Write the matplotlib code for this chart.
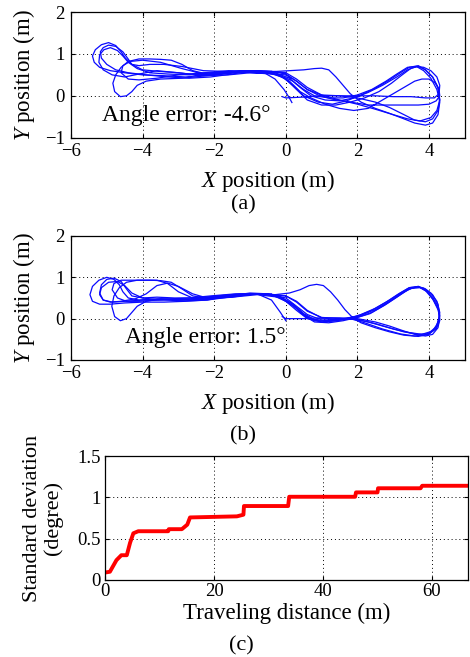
import matplotlib
matplotlib.use("Agg")
import matplotlib.pyplot as plt

plt.rcParams['font.family'] = ['Liberation Serif', 'DejaVu Serif']
plt.rcParams['mathtext.fontset'] = 'custom'
plt.rcParams['mathtext.rm'] = 'Liberation Serif'
plt.rcParams['mathtext.it'] = 'Liberation Serif:italic'

# Trajectory laps, panel (a): heading not corrected
a_lap1_x = [-0.1, 0.0, 0.5, 1.0, 1.5, 2.0, 2.5, 2.9, 3.3, 3.6, 3.9, 4.1, 4.25, 4.3, 4.25, 4.1, 3.9, 3.7, 3.45, 3.2, 2.9, 2.5, 2.1, 1.7, 1.3, 0.9, 0.5, 0.2, -0.1, -0.5, -1.0, -1.6, -2.2, -2.8, -3.4, -4.0, -4.5, -4.9, -5.2, -5.35, -5.4, -5.32, -5.15, -4.95, -4.75, -4.6, -4.48, -4.3, -4.0, -3.5, -3.0, -2.5, -2.0, -1.4, -0.8, -0.3]
a_lap1_y = [-0.02, -0.05, -0.03, 0.0, 0.0, -0.05, -0.15, -0.28, -0.45, -0.58, -0.62, -0.55, -0.35, -0.1, 0.2, 0.45, 0.62, 0.72, 0.68, 0.55, 0.38, 0.18, 0.02, -0.12, -0.2, -0.15, 0.0, 0.25, 0.45, 0.55, 0.6, 0.58, 0.5, 0.45, 0.48, 0.5, 0.55, 0.6, 0.68, 0.8, 0.95, 1.1, 1.22, 1.27, 1.2, 1.05, 0.9, 0.75, 0.62, 0.58, 0.55, 0.5, 0.52, 0.58, 0.6, 0.58]
a_lap2_x = [-0.3, 0.1, 0.5, 0.8, 1.0, 1.2, 1.4, 1.6, 1.8, 2.1, 2.5, 2.9, 3.3, 3.6, 3.9, 4.1, 4.25, 4.3, 4.22, 4.05, 3.85, 3.65, 3.4, 3.1, 2.8, 2.4, 2.0, 1.6, 1.2, 0.8, 0.5, 0.2, -0.2, -0.8, -1.5, -2.2, -2.9, -3.5, -3.9, -4.15, -4.3, -4.45, -4.62, -4.78, -4.83, -4.75, -4.6, -4.4, -4.1, -3.8, -3.5, -3.2, -2.9, -2.6, -2.1, -1.5, -0.9, -0.4]
a_lap2_y = [0.58, 0.6, 0.62, 0.65, 0.66, 0.62, 0.45, 0.25, 0.05, -0.15, -0.3, -0.42, -0.55, -0.65, -0.7, -0.65, -0.45, -0.15, 0.15, 0.42, 0.6, 0.7, 0.68, 0.52, 0.35, 0.15, 0.02, -0.05, -0.05, 0.0, 0.15, 0.35, 0.5, 0.58, 0.55, 0.48, 0.42, 0.4, 0.35, 0.25, 0.1, 0.0, -0.02, 0.1, 0.3, 0.5, 0.68, 0.82, 0.88, 0.88, 0.87, 0.85, 0.75, 0.6, 0.5, 0.55, 0.6, 0.58]
a_lap3_x = [-0.4, 0.0, 0.3, 0.6, 0.9, 1.3, 1.8, 2.3, 2.8, 3.3, 3.7, 4.0, 4.2, 4.3, 4.28, 4.18, 4.0, 3.8, 3.6, 3.4, 3.1, 2.7, 2.3, 1.9, 1.5, 1.1, 0.7, 0.4, 0.1, -0.3, -0.9, -1.5, -2.1, -2.7, -3.3, -3.9, -4.4, -4.75, -5.0, -5.15, -5.18, -5.1, -4.95, -4.75, -4.55, -4.42, -4.3, -4.1, -3.8, -3.4, -2.9, -2.3, -1.6, -0.9, -0.4, 0.0]
a_lap3_y = [0.58, 0.52, 0.35, 0.15, 0.02, -0.08, -0.15, -0.22, -0.22, -0.22, -0.22, -0.2, -0.12, 0.0, 0.15, 0.3, 0.4, 0.4, 0.35, 0.25, 0.1, -0.1, -0.3, -0.35, -0.3, -0.2, -0.05, 0.1, 0.35, 0.55, 0.6, 0.52, 0.45, 0.42, 0.45, 0.5, 0.55, 0.62, 0.75, 0.9, 1.05, 1.15, 1.21, 1.18, 1.05, 0.9, 0.75, 0.72, 0.75, 0.75, 0.7, 0.6, 0.58, 0.6, 0.58, 0.55]
a_lap4_x = [0.0, 0.3, 0.6, 1.0, 1.5, 2.0, 2.5, 3.0, 3.4, 3.75, 4.05, 4.22, 4.3, 4.25, 4.1, 3.9, 3.7, 3.5, 3.25, 2.95, 2.6, 2.2, 1.8, 1.4, 1.0, 0.6, 0.3, 0.0, -0.4, -1.0, -1.6, -2.3, -3.0, -3.6, -4.1, -4.5, -4.85, -5.1, -5.22, -5.2, -5.08, -4.9, -4.7, -4.55, -4.4, -4.15, -3.8, -3.3, -2.7, -2.1, -1.5, -0.9, -0.4, 0.0]
a_lap4_y = [0.55, 0.4, 0.2, 0.02, -0.1, -0.2, -0.32, -0.45, -0.55, -0.6, -0.52, -0.35, -0.1, 0.2, 0.45, 0.62, 0.7, 0.66, 0.5, 0.3, 0.1, -0.05, -0.15, -0.22, -0.22, -0.1, 0.15, 0.4, 0.55, 0.55, 0.5, 0.48, 0.55, 0.6, 0.52, 0.45, 0.5, 0.62, 0.8, 0.98, 1.1, 1.15, 1.08, 0.95, 0.8, 0.65, 0.55, 0.52, 0.5, 0.55, 0.58, 0.55, 0.52, 0.5]
a_lap5_x = [0.0, 0.3, 0.6, 1.0, 1.5, 2.0, 2.5, 3.0, 3.5, 3.9, 4.15, 4.28, 4.3, 4.22, 4.05, 3.85, 3.65, 3.4, 3.1, 2.7, 2.3, 1.9, 1.5, 1.1, 0.7, 0.4, 0.1, -0.3, -0.9, -1.6, -2.3, -3.0, -3.6, -4.1, -4.4, -4.6, -4.55, -4.35, -4.0, -3.5, -2.9, -2.3, -1.7, -1.1, -0.6, -0.3, -0.05, 0.1, 0.17]
a_lap5_y = [0.5, 0.35, 0.15, 0.02, 0.0, 0.0, 0.0, -0.02, -0.02, -0.05, -0.05, 0.05, 0.25, 0.45, 0.6, 0.68, 0.7, 0.62, 0.45, 0.25, 0.08, -0.05, -0.12, -0.1, 0.0, 0.2, 0.42, 0.55, 0.58, 0.6, 0.55, 0.5, 0.42, 0.38, 0.4, 0.55, 0.72, 0.82, 0.85, 0.8, 0.65, 0.52, 0.55, 0.6, 0.55, 0.4, 0.15, -0.05, -0.16]

# Trajectory laps, panel (b): heading corrected
b_lap1_x = [-0.1, 0.0, 0.5, 1.0, 1.5, 2.0, 2.5, 2.9, 3.3, 3.6, 3.9, 4.1, 4.25, 4.3, 4.25, 4.1, 3.9, 3.7, 3.45, 3.2, 2.9, 2.5, 2.1, 1.8, 1.4, 1.0, 0.6, 0.3, -0.1, -0.5, -1.0, -1.6, -2.2, -2.8, -3.4, -4.0, -4.5, -4.9, -5.2, -5.4, -5.47, -5.4, -5.22, -5.0, -4.8, -4.65, -4.55, -4.4, -4.1, -3.6, -3.0, -2.5, -2.0, -1.4, -0.8, -0.3]
b_lap1_y = [0.05, 0.0, 0.0, 0.02, 0.02, 0.0, -0.08, -0.18, -0.3, -0.38, -0.42, -0.38, -0.22, 0.0, 0.25, 0.48, 0.68, 0.78, 0.75, 0.62, 0.45, 0.25, 0.1, 0.02, -0.05, -0.08, 0.02, 0.25, 0.48, 0.6, 0.62, 0.55, 0.45, 0.42, 0.4, 0.4, 0.38, 0.35, 0.35, 0.42, 0.58, 0.78, 0.93, 1.0, 0.95, 0.82, 0.65, 0.5, 0.45, 0.48, 0.47, 0.45, 0.5, 0.55, 0.6, 0.58]
b_lap2_x = [-0.3, 0.1, 0.4, 0.65, 0.86, 1.05, 1.25, 1.45, 1.65, 1.85, 2.1, 2.5, 2.9, 3.3, 3.7, 4.0, 4.2, 4.3, 4.25, 4.1, 3.9, 3.7, 3.45, 3.15, 2.8, 2.4, 2.0, 1.6, 1.2, 0.8, 0.5, 0.2, -0.2, -0.8, -1.5, -2.2, -2.9, -3.5, -3.9, -4.15, -4.3, -4.45, -4.62, -4.78, -4.86, -4.8, -4.65, -4.45, -4.15, -3.8, -3.5, -3.2, -2.9, -2.6, -2.1, -1.5, -0.9, -0.4]
b_lap2_y = [0.58, 0.62, 0.7, 0.8, 0.83, 0.8, 0.65, 0.45, 0.22, 0.04, -0.1, -0.22, -0.32, -0.4, -0.43, -0.38, -0.22, 0.05, 0.3, 0.52, 0.7, 0.77, 0.75, 0.6, 0.4, 0.2, 0.06, 0.0, -0.05, -0.05, 0.1, 0.35, 0.55, 0.6, 0.55, 0.47, 0.45, 0.48, 0.42, 0.3, 0.15, 0.0, -0.05, 0.05, 0.3, 0.55, 0.75, 0.88, 0.93, 0.93, 0.92, 0.88, 0.72, 0.55, 0.48, 0.52, 0.6, 0.6]
b_lap3_x = [-0.4, 0.0, 0.3, 0.6, 0.9, 1.3, 1.8, 2.3, 2.8, 3.3, 3.7, 4.0, 4.2, 4.3, 4.26, 4.12, 3.95, 3.75, 3.5, 3.2, 2.9, 2.5, 2.1, 1.8, 1.4, 1.0, 0.6, 0.3, 0.0, -0.4, -1.0, -1.6, -2.2, -2.8, -3.4, -4.0, -4.5, -4.85, -5.1, -5.2, -5.15, -5.0, -4.8, -4.6, -4.45, -4.3, -4.0, -3.6, -3.1, -2.5, -1.9, -1.3, -0.7, -0.3, 0.0]
b_lap3_y = [0.58, 0.5, 0.3, 0.1, 0.0, -0.02, 0.0, -0.08, -0.2, -0.32, -0.38, -0.36, -0.25, -0.05, 0.2, 0.45, 0.65, 0.75, 0.73, 0.6, 0.42, 0.22, 0.08, 0.0, -0.05, -0.08, 0.0, 0.2, 0.42, 0.58, 0.6, 0.52, 0.45, 0.43, 0.45, 0.45, 0.42, 0.4, 0.45, 0.62, 0.82, 0.95, 0.98, 0.9, 0.72, 0.55, 0.5, 0.52, 0.5, 0.5, 0.55, 0.6, 0.6, 0.58, 0.55]
b_lap4_x = [0.0, 0.3, 0.6, 1.0, 1.4, 1.8, 2.2, 2.7, 3.2, 3.6, 3.95, 4.2, 4.3, 4.25, 4.1, 3.9, 3.7, 3.45, 3.15, 2.8, 2.4, 2.0, 1.6, 1.2, 0.8, 0.5, 0.2, -0.2, -0.8, -1.5, -2.2, -2.6, -3.0, -3.3, -3.6, -3.9, -4.2, -4.6, -4.9, -5.1, -5.2, -5.15, -4.95, -4.7, -4.5, -4.3, -4.0, -3.6, -3.2, -2.7, -2.1, -1.4, -0.7, 0.0]
b_lap4_y = [0.55, 0.42, 0.2, 0.02, -0.02, 0.0, -0.1, -0.25, -0.37, -0.42, -0.38, -0.2, 0.08, 0.35, 0.58, 0.72, 0.78, 0.72, 0.55, 0.35, 0.15, 0.03, -0.05, -0.1, -0.08, 0.08, 0.32, 0.52, 0.58, 0.52, 0.5, 0.6, 0.78, 0.86, 0.8, 0.6, 0.48, 0.42, 0.4, 0.45, 0.58, 0.75, 0.88, 0.9, 0.8, 0.62, 0.5, 0.46, 0.48, 0.5, 0.55, 0.6, 0.6, 0.55]
b_lap5_x = [0.0, 0.3, 0.6, 1.0, 1.5, 2.0, 2.5, 3.0, 3.4, 3.8, 4.1, 4.25, 4.3, 4.22, 4.05, 3.85, 3.65, 3.4, 3.1, 2.75, 2.35, 2.0, 1.6, 1.2, 0.8, 0.5, 0.2, -0.2, -0.8, -1.5, -2.2, -2.9, -3.6, -4.1, -4.45, -4.7, -4.85, -4.8, -4.6, -4.2, -3.6, -3.3, -3.0, -2.6, -2.0, -1.4, -0.8, -0.4, -0.15, 0.0]
b_lap5_y = [0.55, 0.4, 0.18, 0.03, 0.0, -0.02, -0.12, -0.25, -0.33, -0.38, -0.3, -0.1, 0.15, 0.42, 0.62, 0.74, 0.77, 0.7, 0.52, 0.32, 0.12, 0.03, -0.02, -0.05, -0.02, 0.12, 0.35, 0.55, 0.6, 0.55, 0.5, 0.47, 0.45, 0.42, 0.42, 0.5, 0.7, 0.85, 0.93, 0.93, 0.93, 0.85, 0.65, 0.5, 0.52, 0.58, 0.6, 0.45, 0.15, -0.05]

# Standard deviation of heading vs. traveling distance
dist = [0.0, 0.9, 1.5, 2.1, 3.0, 4.0, 4.6, 5.2, 6.1, 11.6, 11.7, 14.1, 15.1, 15.6, 24.2, 25.4, 25.5, 33.6, 33.8, 45.9, 46.05, 50.0, 50.1, 57.9, 58.2, 66.6]
std_dev = [0.09, 0.1, 0.17, 0.24, 0.3, 0.3, 0.45, 0.565, 0.59, 0.59, 0.615, 0.615, 0.67, 0.757, 0.77, 0.79, 0.895, 0.895, 1.007, 1.007, 1.06, 1.06, 1.11, 1.11, 1.14, 1.14]

laps_a = [(a_lap1_x, a_lap1_y), (a_lap2_x, a_lap2_y), (a_lap3_x, a_lap3_y), (a_lap4_x, a_lap4_y), (a_lap5_x, a_lap5_y)]
laps_b = [(b_lap1_x, b_lap1_y), (b_lap2_x, b_lap2_y), (b_lap3_x, b_lap3_y), (b_lap4_x, b_lap4_y), (b_lap5_x, b_lap5_y)]

fig = plt.figure(figsize=(4.7, 6.57), dpi=100)
ax_a = fig.add_axes([0.151, 0.7904, 0.838, 0.1913])
ax_b = fig.add_axes([0.151, 0.4521, 0.838, 0.1887])
ax_c = fig.add_axes([0.2234, 0.1172, 0.7723, 0.1887])

def style(ax, xpad, ypad):
    ax.grid(True, linestyle=(0, (1, 3)), color='k', linewidth=0.7)
    ax.tick_params(direction='in', top=True, right=True, labelsize=13.5, length=3)
    ax.tick_params(axis='x', pad=xpad)
    ax.tick_params(axis='y', pad=ypad)
    for s in ax.spines.values():
        s.set_linewidth(0.9)

for ax, laps, txt, tx, letter, ly in [(ax_a, laps_a, 'Angle error: -4.6°', -5.14, '(a)', -0.535),
                                      (ax_b, laps_b, 'Angle error: 1.5°', -4.49, '(b)', -0.61)]:
    for lx, lyy in laps:
        ax.plot(lx, lyy, color='#0a0aff', linewidth=0.9)
    ax.set_xlim(-6, 5)
    ax.set_ylim(-1, 2)
    ax.set_xticks([-6, -4, -2, 0, 2, 4])
    ax.set_yticks([-1, 0, 1, 2])
    style(ax, 3.6, 4.3)
    ax.text(tx, -0.6, txt, fontsize=17)
    ax.set_xlabel('$X$ position (m)', fontsize=16.5)
    ax.xaxis.set_label_coords(0.5, -0.24)
    ax.xaxis.label.set_va('top')
    ax.set_ylabel('$Y$ position (m)', fontsize=16.5)
    ax.yaxis.set_label_coords(-0.086, 0.5)
    ax.text(0.437, ly, letter, transform=ax.transAxes, fontsize=16, ha='center', va='center')

ax_c.plot(dist, std_dev, color='red', linewidth=2.8)
ax_c.set_xlim(0, 66.6)
ax_c.set_ylim(0, 1.5)
ax_c.set_xticks([0, 20, 40, 60])
ax_c.set_yticks([0, 0.5, 1, 1.5])
ax_c.set_yticklabels(['0', '0.5', '1', '1.5'])
style(ax_c, 2, 3)
ax_c.set_xlabel('Traveling distance (m)', fontsize=16.5)
ax_c.xaxis.set_label_coords(0.5, -0.185)
ax_c.xaxis.label.set_va('top')
ax_c.set_ylabel('Standard deviation\n(degree)', fontsize=16, linespacing=1.1)
ax_c.yaxis.set_label_coords(-0.116, 0.5)
ax_c.text(0.377, -0.53, '(c)', transform=ax_c.transAxes, fontsize=16, ha='center', va='center')

fig.savefig('out.png', dpi=100)
